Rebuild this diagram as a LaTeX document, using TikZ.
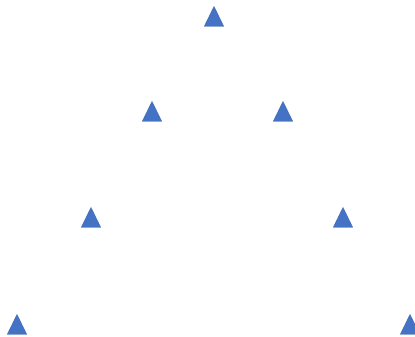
\documentclass[tikz,border=0pt]{standalone}
\usepackage{tikz}
\usetikzlibrary{shapes.geometric}
\definecolor{Marker}{HTML}{4472C4}
\tikzset{
  tri/.style={isosceles triangle,isosceles triangle apex angle=52,shape border rotate=90,
    fill=Marker,draw=Marker!90!black,line width=0.3pt,inner sep=0pt,minimum height=20pt,anchor=apex}
}
\begin{document}
\begin{tikzpicture}[x=1pt,y=-1pt]
  \useasboundingbox (0,0) rectangle (415,337);
  % top row
  \node[tri] (top) at (214,6) {};
  % second row
  \node[tri] (midl) at (152,101) {};
  \node[tri] (midr) at (283,101) {};
  % third row
  \node[tri] (lowl) at (91,207) {};
  \node[tri] (lowr) at (343,207) {};
  % bottom row
  \node[tri] (botl) at (17,314) {};
  \node[tri] (botr) at (410,314) {};
\end{tikzpicture}
\end{document}
